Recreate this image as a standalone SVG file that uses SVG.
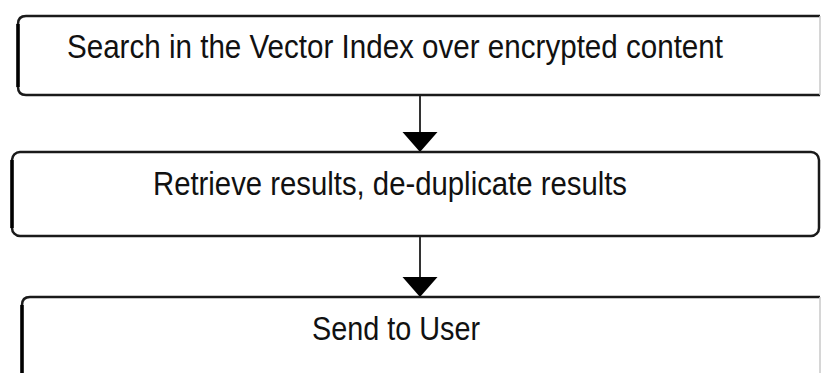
<svg xmlns="http://www.w3.org/2000/svg" width="823" height="373" viewBox="0 0 823 373">
  <style>
    .box { fill: #ffffff; stroke: #1a1a1a; stroke-width: 2.5; }
    .faint { fill: none; stroke: #c8c8c8; stroke-width: 1.5; }
    .thick { fill: none; stroke: #000000; stroke-width: 3.5; }
    .lbl { font-family: "Liberation Sans", Arial, sans-serif; font-size: 34px; fill: #111111; }
    .conn { stroke: #333333; stroke-width: 2; fill: none; }
  </style>
  <defs>
    <marker id="arrow" markerUnits="userSpaceOnUse" markerWidth="21" markerHeight="36" refX="20" refY="17.5" orient="auto" viewBox="0 0 21 36">
      <path d="M0,0 L20,17.5 L0,35 Z" fill="#000000"/>
    </marker>
  </defs>
  <rect width="823" height="373" fill="#ffffff"/>

  <g id="node-search">
    <path class="box" d="M820,16 L26,16 Q18,16 18,24 L18,87 Q18,95 26,95 L820,95"/>
    <line class="faint" x1="820" y1="16" x2="820" y2="95"/>
    <path class="thick" d="M18,24 L18,87"/>
    <text class="lbl" x="67" y="58" textLength="656" lengthAdjust="spacingAndGlyphs">Search in the Vector Index over encrypted content</text>
  </g>

  <g id="node-retrieve">
    <rect class="box" x="12" y="152" width="807" height="84" rx="8" ry="8"/>
    <path class="thick" d="M12,160 L12,228"/>
    <text class="lbl" x="153" y="195" textLength="474" lengthAdjust="spacingAndGlyphs">Retrieve results, de-duplicate results</text>
  </g>

  <g id="node-send">
    <path class="box" d="M820,297 L30,297 Q22,297 22,305 L22,380"/>
    <line class="faint" x1="820" y1="297" x2="820" y2="373"/>
    <path class="thick" d="M22,305 L22,380"/>
    <text class="lbl" x="312" y="340" textLength="168" lengthAdjust="spacingAndGlyphs">Send to User</text>
  </g>

  <g id="connectors">
    <line class="conn" x1="420" y1="96" x2="420" y2="152" marker-end="url(#arrow)"/>
    <line class="conn" x1="420" y1="237" x2="420" y2="297" marker-end="url(#arrow)"/>
  </g>
</svg>
